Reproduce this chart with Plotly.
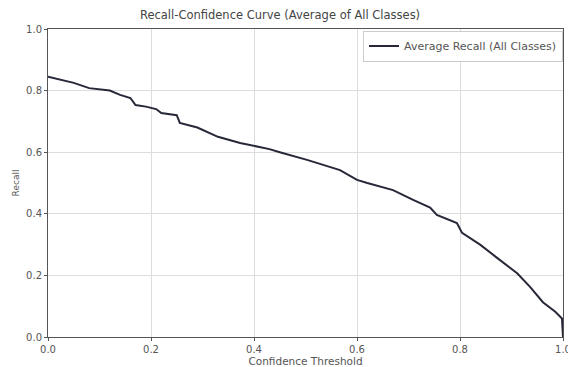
import plotly.graph_objects as go

confidence = [0.0, 0.02, 0.05, 0.08, 0.10, 0.12, 0.14, 0.16, 0.17, 0.19, 0.21, 0.22, 0.25, 0.256,
              0.29, 0.33, 0.373, 0.43, 0.45, 0.49, 0.503, 0.567, 0.60, 0.62, 0.67, 0.709, 0.742,
              0.755, 0.794, 0.804, 0.839, 0.872, 0.911, 0.936, 0.961, 0.985, 0.998, 1.0]
recall = [0.845, 0.837, 0.825, 0.808, 0.803, 0.80, 0.786, 0.776, 0.753, 0.748, 0.74, 0.727, 0.72, 0.695,
          0.68, 0.65, 0.63, 0.61, 0.60, 0.582, 0.575, 0.542, 0.51, 0.50, 0.477, 0.445, 0.42,
          0.396, 0.37, 0.338, 0.30, 0.257, 0.207, 0.163, 0.113, 0.082, 0.06, 0.0]

x_ticks = [0.0, 0.2, 0.4, 0.6, 0.8, 1.0]
y_ticks = [0.0, 0.2, 0.4, 0.6, 0.8, 1.0]

font = "DejaVu Sans"
fig = go.Figure()
fig.add_trace(go.Scatter(x=confidence, y=recall, mode="lines",
                         line=dict(color="#262838", width=2),
                         name="Average Recall (All Classes)", cliponaxis=False))

fig.update_layout(
    width=568, height=367,
    margin=dict(l=48, r=5, t=29, b=30),
    paper_bgcolor="white", plot_bgcolor="white",
    font=dict(family=font, size=10, color="#555"),
    title=dict(text="Recall-Confidence Curve (Average of All Classes)",
               x=0.493, xanchor="center", y=0.958, yanchor="middle",
               font=dict(size=11.5, color="#444")),
    showlegend=True,
    legend=dict(x=1, xanchor="right", y=0.995, yanchor="top",
                bgcolor="white", bordercolor="#ccc", borderwidth=1,
                itemwidth=30, tracegroupgap=0,
                font=dict(size=11, color="#555")),
)
fig.update_xaxes(range=[0, 1], tickvals=x_ticks, ticktext=[f"{v:.1f}" for v in x_ticks],
                 showgrid=True, gridcolor="#ddd", gridwidth=1,
                 showline=True, linecolor="#555", linewidth=1, mirror=True,
                 ticks="outside", ticklen=3, tickcolor="#555", zeroline=False,
                 automargin=False, tickfont=dict(size=10), ticklabeloverflow="allow",
                 title=dict(text="Confidence Threshold", standoff=0, font=dict(size=10.5)))
fig.update_yaxes(range=[0, 1], tickvals=y_ticks, ticktext=[f"{v:.1f}" for v in y_ticks],
                 showgrid=True, gridcolor="#ddd", gridwidth=1,
                 showline=True, linecolor="#555", linewidth=1, mirror=True,
                 ticks="outside", ticklen=3, tickcolor="#555", zeroline=False,
                 automargin=False, tickfont=dict(size=10), ticklabeloverflow="allow",
                 title=dict(text="Recall", standoff=4, font=dict(size=9)))

fig.write_html("out.html", config={"displayModeBar": False},
               post_script="document.body.style.margin='0';document.body.style.overflow='hidden';")
